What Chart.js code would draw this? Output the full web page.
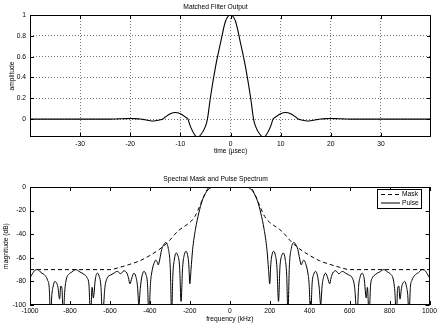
<!DOCTYPE html>
<html>
<head>
<meta charset="utf-8">
<script src="https://cdn.jsdelivr.net/npm/chart.js@4.4.0/dist/chart.umd.min.js"></script>
<style>
  body { margin: 0; background: #fff; }
  .panel { position: absolute; left: 0; width: 439px; height: 165px; }
</style>
</head>
<body>
<div class="panel" style="top:0"><canvas id="filter" width="439" height="165"></canvas></div>
<div class="panel" style="top:165px"><canvas id="spectrum" width="439" height="165"></canvas></div>
<script>
// matched filter output
const timeUs = [-40, -24, -23, -22, -21, -20, -19, -18, -17, -16, -15.5, -15, -14, -13.5, -13, -12, -11, -10, -9, -8.5, -8, -7, -6.5, -6, -5, -4.6, -4, -3, -2, -1,
  0, 1, 2, 3, 4, 4.6, 5, 6, 6.5, 7, 8, 8.5, 9, 10, 11, 12, 13, 13.5, 14, 15, 15.5, 16, 17, 18, 19, 20, 21, 22, 23, 24, 40];
const amplitude = [0, 0, 0.001, 0.003, 0.005, 0.006, 0.005, 0.001, -0.007, -0.016, -0.018, -0.016, -0.006, 0, 0.02, 0.052, 0.064, 0.052, 0.02, 0, -0.07, -0.16, -0.17, -0.155, -0.07, 0, 0.21, 0.5, 0.73, 0.94,
  1, 0.94, 0.73, 0.5, 0.21, 0, -0.07, -0.155, -0.17, -0.16, -0.07, 0, 0.02, 0.052, 0.064, 0.052, 0.02, 0, -0.006, -0.016, -0.018, -0.016, -0.007, 0.001, 0.005, 0.006, 0.005, 0.003, 0.001, 0, 0];
const timeTicks = [-30, -20, -10, 0, 10, 20, 30];
const ampTicks = [0, 0.2, 0.4, 0.6, 0.8, 1];

// pulse spectrum
const freqKHz = [-1000, -988, -975, -962, -945, -925, -912, -904, -897, -891, -884, -876, -868, -860, -852, -846, -840, -834, -826, -818, -806, -790, -771, -750, -730, -714, -705, -697, -689, -683, -673, -663, -653, -645, -637, -625, -613, -595, -580, -563, -546, -530, -515, -507, -500, -490, -480, -470, -462, -455, -448, -440, -430, -420, -412, -405, -397, -390, -380, -371, -365, -358, -350, -341, -331, -321, -308, -298, -291, -285, -277, -269, -260, -251, -244, -236, -227, -219, -212, -205, -200, -194, -186, -172, -155, -139, -122, -110, -100, -90, -60,
  0, 60, 90, 100, 110, 122, 139, 155, 172, 186, 194, 200, 205, 212, 219, 227, 236, 244, 251, 260, 269, 277, 285, 291, 298, 308, 321, 331, 341, 350, 358, 365, 371, 380, 390, 397, 405, 412, 420, 430, 440, 448, 455, 462, 470, 480, 490, 500, 507, 515, 530, 546, 563, 580, 595, 613, 625, 637, 645, 653, 663, 673, 683, 689, 697, 705, 714, 730, 750, 771, 790, 806, 818, 826, 834, 840, 846, 852, 860, 868, 876, 884, 891, 897, 904, 912, 925, 945, 962, 975, 988, 1000];
const pulseDb = [-77, -73.5, -70.5, -70, -72.5, -75, -79, -85, -110, -92, -84, -80, -81, -85, -95, -84, -86, -110, -88, -78, -74, -72, -70, -72, -74, -77, -83, -110, -85, -94, -78, -73, -76, -84, -110, -85, -77, -74.5, -73, -71.5, -73.5, -71, -73, -77, -82, -77, -73, -76, -84, -100, -86, -76, -71.5, -74, -82, -110, -82, -72, -65, -62, -63, -66, -61, -53, -49, -47, -52, -68, -108, -75, -61, -56, -58, -68, -97, -68, -57, -54.5, -57, -66, -82, -70, -53, -36, -22, -12, -5.5, -2.5, -1, -0.3, 0,
  0, 0, -0.3, -1, -2.5, -5.5, -12, -22, -36, -53, -70, -82, -66, -57, -54.5, -57, -68, -97, -68, -58, -56, -61, -75, -108, -68, -52, -47, -49, -53, -61, -66, -63, -62, -65, -72, -82, -110, -82, -74, -71.5, -76, -86, -100, -84, -76, -73, -77, -82, -77, -73, -71, -73.5, -71.5, -73, -74.5, -77, -85, -110, -84, -76, -73, -78, -94, -85, -110, -83, -77, -74, -72, -70, -72, -74, -78, -88, -110, -86, -84, -95, -85, -81, -80, -84, -92, -110, -85, -79, -75, -72.5, -70, -70.5, -73.5, -77];

// spectral mask
const maskFreqKHz = [-1000, -600, -550, -500, -450, -400, -350, -300, -275, -250, -220, -200, -175, -150, -125, -100, 100, 125, 150, 175, 200, 220, 250, 275, 300, 350, 400, 450, 500, 550, 600, 1000];
const maskDb = [-70, -70, -68, -65.5, -62.5, -58, -52.5, -45, -40, -36, -32.5, -30, -25, -16, -6, 0, 0, -6, -16, -25, -30, -32.5, -36, -40, -45, -52.5, -58, -62.5, -65.5, -68, -70, -70];

const freqTicks = [-1000, -800, -600, -400, -200, 0, 200, 400, 600, 800, 1000];
const dbTicks = [-100, -80, -60, -40, -20, 0];

Chart.defaults.font.family = '"Liberation Sans", Arial, Helvetica, sans-serif';
Chart.defaults.font.size = 6.7;
Chart.defaults.color = '#000';

const pts = (xs, ys) => xs.map((x, i) => ({ x: x, y: ys[i] }));

// box around the axes plus short inward ticks
const frame = {
    id: 'frame',
    afterDatasetsDraw(chart) {
        const { ctx, chartArea: a, scales } = chart;
        ctx.save();
        ctx.strokeStyle = '#000';
        ctx.lineWidth = 1;
        ctx.strokeRect(Math.round(a.left) + 0.5, Math.round(a.top) + 0.5, Math.round(a.right - a.left) - 1, Math.round(a.bottom - a.top) - 1);
        ctx.beginPath();
        scales.x.ticks.forEach(t => {
            const px = Math.round(scales.x.getPixelForValue(t.value)) + 0.5;
            ctx.moveTo(px, a.bottom); ctx.lineTo(px, a.bottom - 4);
            ctx.moveTo(px, a.top); ctx.lineTo(px, a.top + 4);
        });
        scales.y.ticks.forEach(t => {
            const py = Math.round(scales.y.getPixelForValue(t.value)) + 0.5;
            ctx.moveTo(a.left, py); ctx.lineTo(a.left + 4, py);
            ctx.moveTo(a.right, py); ctx.lineTo(a.right - 4, py);
        });
        ctx.stroke();
        ctx.restore();
    }
};

// legend box in the upper right corner of the plot
const boxLegend = {
    id: 'boxLegend',
    afterDraw(chart) {
        const { ctx, chartArea: a } = chart;
        const left = Math.round(a.right) - 53, top = Math.round(a.top) + 2;
        ctx.save();
        ctx.fillStyle = '#fff';
        ctx.fillRect(left, top, 44, 19);
        ctx.strokeStyle = '#000';
        ctx.lineWidth = 1;
        ctx.strokeRect(left + 0.5, top + 0.5, 44, 19);
        ctx.font = '6.7px "Liberation Sans", Arial, sans-serif';
        ctx.fillStyle = '#000';
        ctx.textBaseline = 'middle';
        chart.data.datasets.forEach((ds, i) => {
            const y = top + 5.5 + i * 8.5;
            ctx.setLineDash(ds.borderDash || []);
            ctx.beginPath();
            ctx.moveTo(left + 4, y);
            ctx.lineTo(left + 23, y);
            ctx.stroke();
            ctx.fillText(ds.label, left + 25, y);
        });
        ctx.restore();
    }
};

new Chart(document.getElementById('filter'), {
    type: 'line',
    data: {
        datasets: [{
            label: 'Matched Filter Output',
            data: pts(timeUs, amplitude),
            borderColor: '#000',
            borderWidth: 1.1,
            pointRadius: 0,
            cubicInterpolationMode: 'monotone'
        }]
    },
    options: {
        responsive: false,
        animation: false,
        devicePixelRatio: 1,
        layout: { padding: { left: 0, right: 8, top: 0, bottom: 0 } },
        plugins: {
            legend: { display: false },
            tooltip: { enabled: false },
            title: {
                display: true,
                text: 'Matched Filter Output',
                color: '#000',
                font: { size: 6.7, weight: 'normal' },
                padding: { top: 3.3, bottom: 3.7 }
            }
        },
        scales: {
            x: {
                type: 'linear',
                min: -40,
                max: 40,
                afterBuildTicks: s => { s.ticks = timeTicks.map(v => ({ value: v })); },
                afterFit: s => { s.height = 28; },
                grid: { color: 'rgba(0,0,0,0.55)', drawTicks: false },
                border: { display: false, dash: [1, 2] },
                ticks: { padding: 3, callback: v => String(v) },
                title: { display: true, text: 'time (µsec)', padding: { top: 0, bottom: 10 } }
            },
            y: {
                min: -0.172,
                max: 1,
                afterBuildTicks: s => { s.ticks = ampTicks.map(v => ({ value: v })); },
                afterFit: s => { s.width = 30; },
                grid: { color: 'rgba(0,0,0,0.55)', drawTicks: false },
                border: { display: false, dash: [1, 2] },
                ticks: { padding: 4, callback: v => String(v) },
                title: { display: true, text: 'amplitude', padding: { top: 8, bottom: 0 } }
            }
        }
    },
    plugins: [frame]
});

new Chart(document.getElementById('spectrum'), {
    type: 'line',
    data: {
        datasets: [{
            label: 'Mask',
            data: pts(maskFreqKHz, maskDb),
            borderColor: '#000',
            borderWidth: 1,
            borderDash: [4, 3],
            pointRadius: 0,
            cubicInterpolationMode: 'monotone',
            clip: 0
        }, {
            label: 'Pulse',
            data: pts(freqKHz, pulseDb),
            borderColor: '#000',
            borderWidth: 1,
            pointRadius: 0,
            cubicInterpolationMode: 'monotone',
            clip: 0
        }]
    },
    options: {
        responsive: false,
        animation: false,
        devicePixelRatio: 1,
        layout: { padding: { left: 0, right: 8, top: 0, bottom: 0 } },
        plugins: {
            legend: { display: false },
            tooltip: { enabled: false },
            title: {
                display: true,
                text: 'Spectral Mask and Pulse Spectrum',
                color: '#000',
                font: { size: 6.7, weight: 'normal' },
                padding: { top: 10.3, bottom: 3.7 }
            }
        },
        scales: {
            x: {
                type: 'linear',
                min: -1000,
                max: 1000,
                afterBuildTicks: s => { s.ticks = freqTicks.map(v => ({ value: v })); },
                afterFit: s => { s.height = 25; },
                grid: { display: false, drawTicks: false },
                border: { display: false },
                ticks: { padding: 2, callback: v => String(v) },
                title: { display: true, text: 'frequency (kHz)', padding: { top: 0, bottom: 6.7 } }
            },
            y: {
                min: -100,
                max: 0,
                afterBuildTicks: s => { s.ticks = dbTicks.map(v => ({ value: v })); },
                afterFit: s => { s.width = 30; },
                grid: { display: false, drawTicks: false },
                border: { display: false },
                ticks: { padding: 4, callback: v => String(v) },
                title: { display: true, text: 'magnitude (dB)', padding: { top: 1.7, bottom: 0 } }
            }
        }
    },
    plugins: [frame, boxLegend]
});
</script>
</body>
</html>
